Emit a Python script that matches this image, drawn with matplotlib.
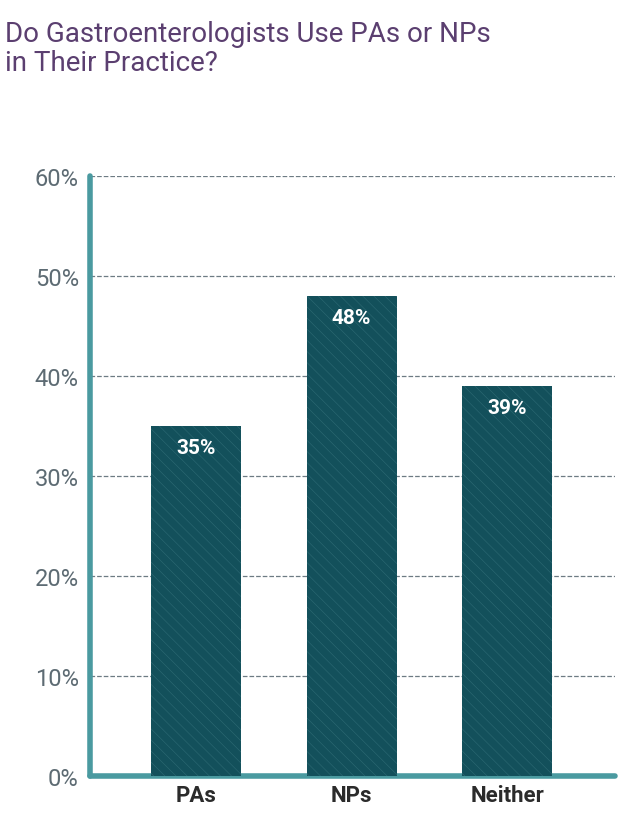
import matplotlib.pyplot as plt
from matplotlib.ticker import FuncFormatter

plt.rcParams["font.family"] = ["Roboto", "DejaVu Sans"]
plt.rcParams["hatch.linewidth"] = 0.4

categories = ["PAs", "NPs", "Neither"]
values = [35, 48, 39]
yticks = [0, 10, 20, 30, 40, 50, 60]

fig = plt.figure(figsize=(6.4, 8.37), dpi=100)
ax = fig.add_axes([0.1406, 0.0717, 0.820, 0.717])

bars = ax.bar(range(len(categories)), values, width=0.577, color="#13505b",
              edgecolor="#2d6a74", hatch="\\\\\\", linewidth=0, zorder=3)

for i, v in enumerate(values):
    ax.text(i, v - 1.2, f"{v}%", ha="center", va="top", color="white",
            fontsize=15, fontweight="bold", zorder=4)

ax.set_xlim(-0.68, 2.69)
ax.set_ylim(0, 60)
ax.set_yticks(yticks)
ax.yaxis.set_major_formatter(FuncFormatter(lambda v, p: f"{v:.0f}%"))
ax.set_xticks(range(len(categories)))
ax.set_xticklabels(categories, fontsize=16, fontweight="bold", color="#2b2b2b")
ax.tick_params(axis="y", labelsize=17, labelcolor="#5d6b73", length=0, pad=8)
ax.tick_params(axis="x", length=0, pad=6)

ax.grid(axis="y", linestyle="--", color="#6d7b83", linewidth=0.9, zorder=0)
for s in ["top", "right"]:
    ax.spines[s].set_visible(False)
for s in ["left", "bottom"]:
    ax.spines[s].set_color("#4a9aa0")
    ax.spines[s].set_linewidth(4)
    ax.spines[s].set_capstyle("round")

fig.text(0.008, 0.975, "Do Gastroenterologists Use PAs or NPs\nin Their Practice?",
         ha="left", va="top", fontsize=20, color="#5b3f70", linespacing=1.1)

fig.savefig("out.png", dpi=100)
